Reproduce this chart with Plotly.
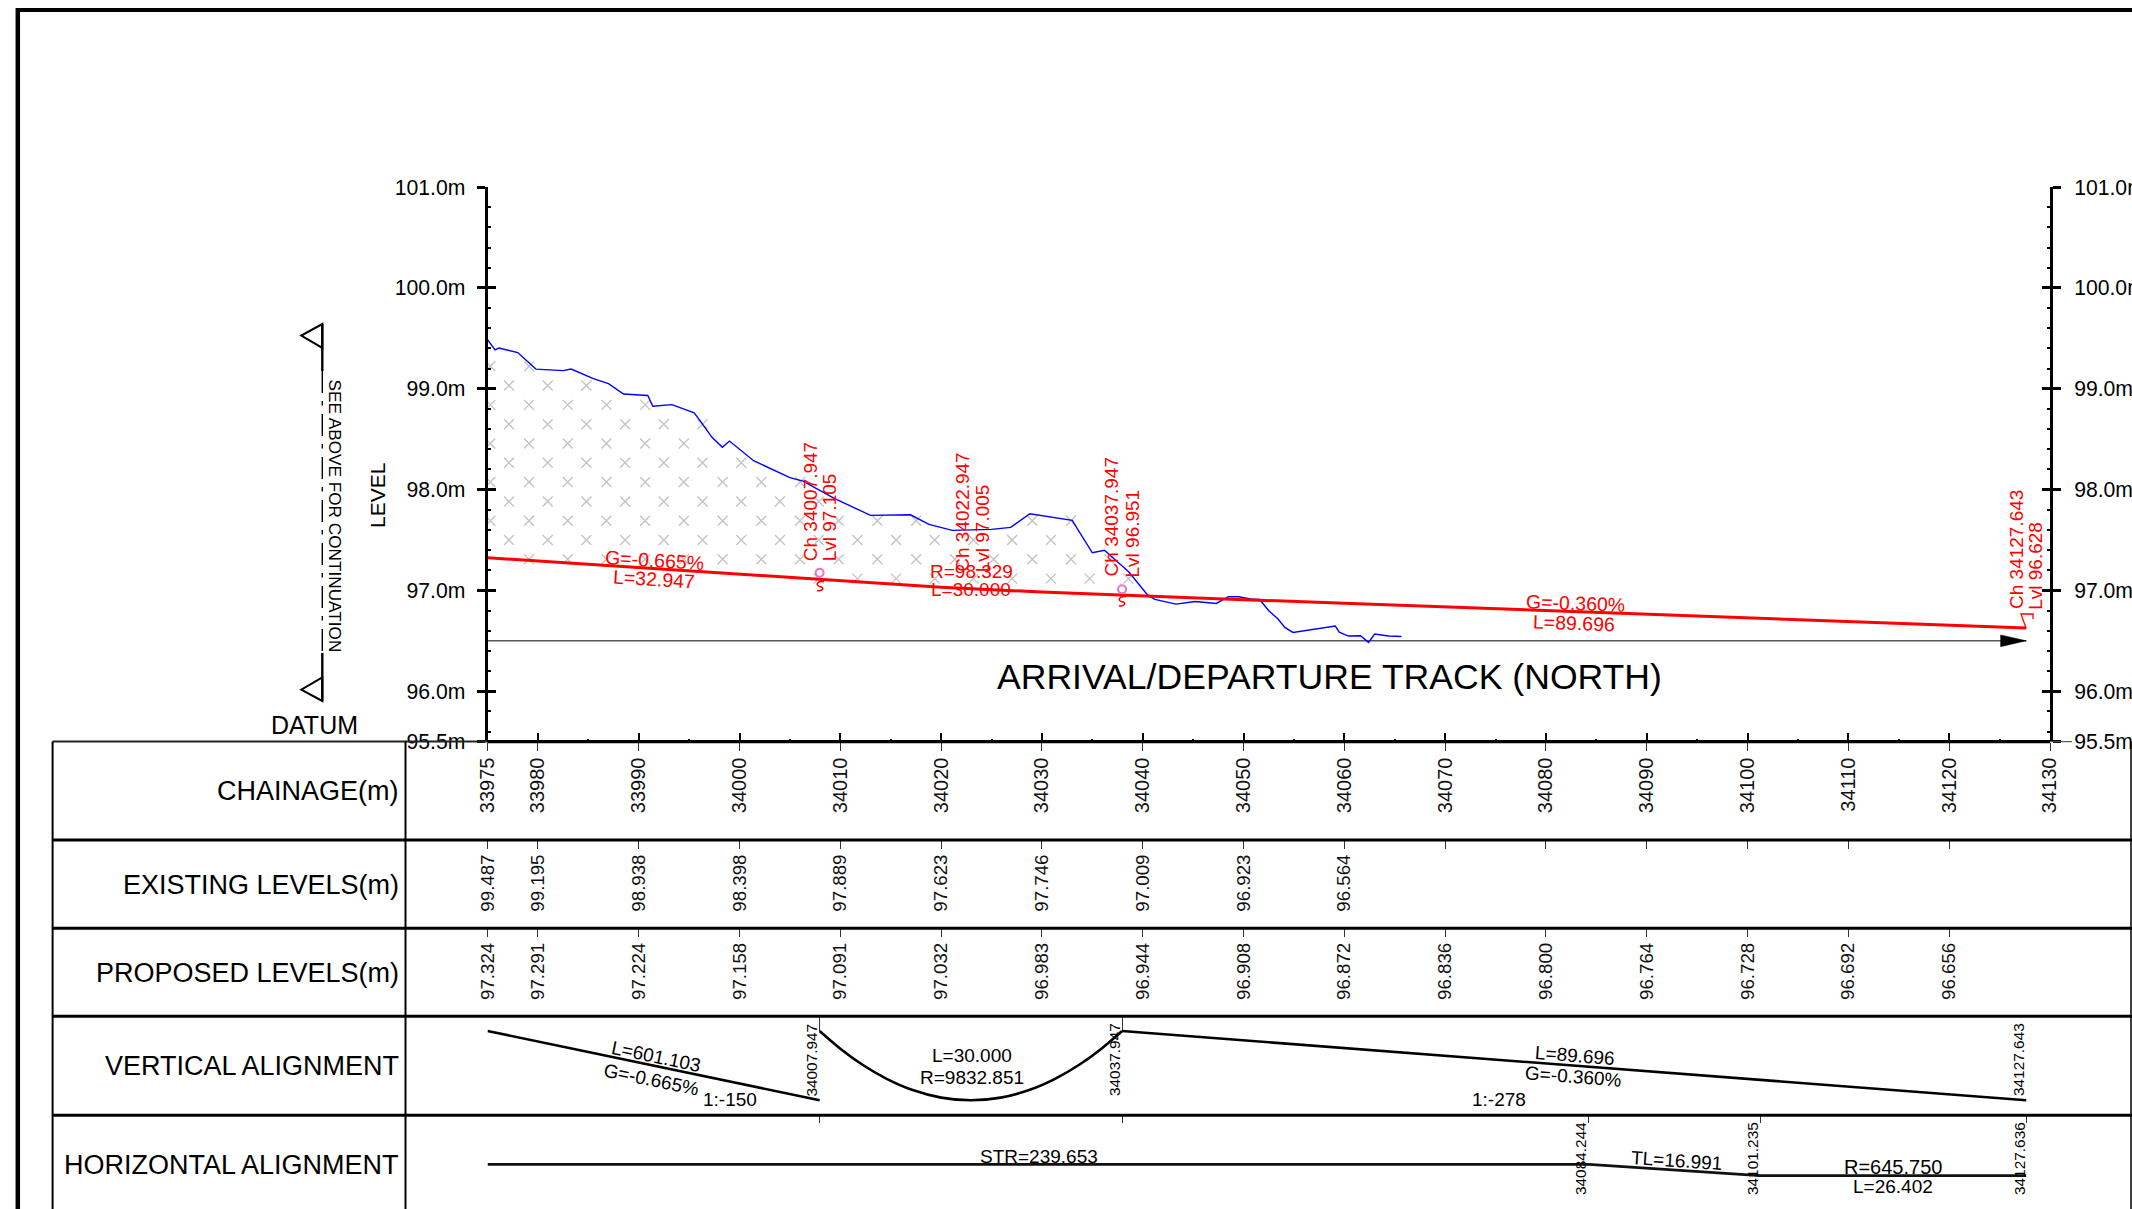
import numpy as np
import plotly.graph_objects as go

W, H = 2132, 1209
SANS = "Liberation Sans"

# ---------- data ----------
level_ticks = [95.5, 96, 97, 98, 99, 100, 101]
level_labels = ["95.5m", "96.0m", "97.0m", "98.0m", "99.0m", "100.0m", "101.0m"]
level_minor = [95.6, 95.8, 96.2, 96.4, 96.6, 96.8, 97.2, 97.4, 97.6, 97.8, 98.2, 98.4,
               98.6, 98.8, 99.2, 99.4, 99.6, 99.8, 100.2, 100.4, 100.6, 100.8]

chainage = [33975, 33980, 33990, 34000, 34010, 34020, 34030, 34040, 34050, 34060,
            34070, 34080, 34090, 34100, 34110, 34120, 34130]
chainage_minor = [33985, 33995, 34005, 34015, 34025, 34035, 34045, 34055, 34065,
                  34075, 34085, 34095, 34105, 34115, 34125]
existing_labels = ["99.487", "99.195", "98.938", "98.398", "97.889", "97.623", "97.746", "97.009",
                   "96.923", "96.564", "", "", "", "", "", ""]
proposed_labels = ["97.324", "97.291", "97.224", "97.158", "97.091", "97.032", "96.983", "96.944",
                   "96.908", "96.872", "96.836", "96.800", "96.764", "96.728", "96.692", "96.656"]

ground_ch = [33975, 33975.75, 33976.15, 33978, 33979.8, 33982.5, 33983.3, 33985.5, 33987, 33988.5,
             33990.9, 33991.4, 33993.3, 33995.5, 33996.08, 33997.27, 33998.3, 33999.0, 34001.4,
             34005, 34006.3, 34009.4, 34013, 34016.96, 34018.8, 34021.1, 34025, 34026.9, 34028.8,
             34033, 34035, 34036.2, 34038.6, 34040.5, 34041.2, 34043.3, 34045.2, 34047.3, 34048.5,
             34049.5, 34050.7, 34051.6, 34052.5, 34053.4, 34054.1, 34054.9, 34059.1, 34059.5,
             34060.4, 34061.6, 34062.4, 34063, 34064.4, 34065.66]
ground_lvl = [99.487, 99.385, 99.404, 99.359, 99.195, 99.18, 99.195, 99.10, 99.05, 98.948,
              98.933, 98.827, 98.842, 98.76, 98.683, 98.518, 98.42, 98.481, 98.286,
              98.118, 98.084, 97.912, 97.744, 97.75, 97.655, 97.595, 97.605, 97.625, 97.76,
              97.694, 97.373, 97.397, 97.185, 96.953, 96.91, 96.864, 96.89, 96.87, 96.937,
              96.937, 96.914, 96.91, 96.798, 96.719, 96.633, 96.583, 96.646, 96.586,
              96.547, 96.55, 96.484, 96.567, 96.547, 96.543]

design_ch = [33975, 33980, 33990, 34000, 34007.947, 34010, 34020, 34030, 34037.947, 34040, 34050,
             34060, 34070, 34080, 34090, 34100, 34110, 34120, 34127.643]
design_lvl = [97.324, 97.291, 97.224, 97.158, 97.105, 97.091, 97.032, 96.983, 96.951, 96.944, 96.908,
              96.872, 96.836, 96.800, 96.764, 96.728, 96.692, 96.656, 96.628]

datum_ch = [33975, 34127.643]
datum_lvl = [96.5, 96.5]
arrow_ch = [34125.1, 34127.643, 34125.1, 34125.1]
arrow_lvl = [96.558, 96.5, 96.442, 96.558]

ip_ch = [34007.947, 34037.947]
ip_lvl = [97.175, 97.01]

va_ch = [33975, 34007.947, None, 34037.947, 34127.643]
va_pos = [1, 0, None, 1, 0]
arc_ch = [34007.947, 34010, 34012.2, 34014.6, 34017.1, 34020, 34022.947,
          34025.9, 34028.8, 34031.3, 34033.7, 34035.9, 34037.947]
arc_pos = [1, 0.745, 0.513, 0.31, 0.152, 0.039, 0, 0.039, 0.152, 0.31, 0.513, 0.745, 1]
ha_ch = [33975, 34084.244, 34101.235, 34127.636]
ha_pos = [1, 1, 0, 0]
va_stubs = [34007.947, 34037.947]
ha_stubs = [34007.947, 34037.947, 34084.244, 34101.235, 34127.636]

# ---------- page geometry ----------
X0, X1 = 487.5, 2050.0
Y_TOP, Y_BOT = 187.1, 741.6
ROWS = [840.0, 928.3, 1016.3, 1115.3]
px = lambda x: x / W
py = lambda y: 1 - y / H
xdom = [px(X0), px(X1)]
xr = [33975, 34130]
ydom = [py(Y_BOT), py(Y_TOP)]
yr = [95.5, 101]
BLACK = "#000000"
STUB = "#333333"

fig = go.Figure()

# hatch texture (staggered crosses, bounded by ground and design line)
hatch_x, hatch_y = [], []
for k in range(0, 12):
    lv = 99.223 - k * 0.1915
    for n in range(-2, 20):
        ch = 33979.12 - (k % 2) * 1.99 + n * 3.84
        if ch < 33975 or ch > 34042:
            continue
        if np.interp(ch, design_ch, design_lvl) - 0.01 < lv < np.interp(ch, ground_ch, ground_lvl) + 0.02:
            hatch_x.append(ch)
            hatch_y.append(lv)

def tr(**k):
    k.setdefault("showlegend", False)
    k.setdefault("hoverinfo", "skip")
    k.setdefault("cliponaxis", False)
    fig.add_trace(go.Scatter(**k))

tr(x=hatch_x, y=hatch_y, mode="markers",
   marker=dict(symbol="x-thin", size=10, line=dict(color="#c4c4c4", width=1.4)))
tr(x=[33975, 33975], y=[design_lvl[0], ground_lvl[0]], mode="lines", line=dict(color="#999999", width=1))
tr(x=datum_ch, y=datum_lvl, mode="lines", line=dict(color="#555555", width=1.6))
tr(x=arrow_ch, y=arrow_lvl, mode="lines", fill="toself", fillcolor=BLACK, line=dict(color=BLACK, width=0.5))
tr(x=ground_ch, y=ground_lvl, mode="lines", line=dict(color="#0000ff", width=1.4))
tr(x=design_ch, y=design_lvl, mode="lines", line=dict(color="#ff0000", width=3))
tr(x=ip_ch, y=ip_lvl, mode="markers",
   marker=dict(symbol="circle-open", size=8, line=dict(color="#c8a8a8", width=2)))
tr(x=va_ch, y=va_pos, yaxis="y5", mode="lines", line=dict(color=BLACK, width=2.6))
tr(x=arc_ch, y=arc_pos, yaxis="y5", mode="lines", line=dict(color=BLACK, width=2.6, shape="spline"))
tr(x=ha_ch, y=ha_pos, yaxis="y6", mode="lines", line=dict(color="#111111", width=2.8))

# invisible carriers so that every auxiliary axis is drawn
for ax in ["x2", "x3", "x4", "x5", "x6"]:
    tr(x=[33975, 34130], y=[96, 96], xaxis=ax, mode="lines", line=dict(width=0), opacity=0)
for ax in ["y2", "y3", "y4"]:
    tr(x=[33975, 34130], y=[96, 96], yaxis=ax, mode="lines", line=dict(width=0), opacity=0)

chain_font = dict(family=SANS, size=20, color="#111111")
num_font = dict(family=SANS, size=18.7, color="#111111")
label_font = dict(family=SANS, size=21.2, color=BLACK)
x_common = dict(domain=xdom, range=xr, showgrid=False, zeroline=False, tickmode="array", tickangle=-90,
                automargin=False)
y_common = dict(domain=ydom, range=yr, showgrid=False, zeroline=False, tickmode="array",
                tickvals=level_ticks, tickcolor=BLACK, tickwidth=3, automargin=False)

fig.update_layout(
    template="none",
    width=W, height=H, margin=dict(l=0, r=0, t=0, b=0, pad=0, autoexpand=False), autosize=False,
    paper_bgcolor="white", plot_bgcolor="rgba(0,0,0,0)", showlegend=False, hovermode=False,
    xaxis=dict(**x_common, anchor="y", tickvals=chainage, ticktext=[str(c) for c in chainage],
               ticks="inside", ticklen=8.5, tickwidth=2, tickcolor=BLACK, tickfont=chain_font,
               ticklabelstandoff=11, showline=False,
               minor=dict(tickmode="array", tickvals=chainage_minor, ticks="inside", ticklen=3,
                          tickwidth=2, tickcolor=BLACK)),
    xaxis2=dict(**x_common, anchor="y", overlaying="x", tickvals=chainage, showticklabels=False,
                ticks="outside", ticklen=8, tickwidth=1.4, tickcolor=STUB),
    xaxis3=dict(**x_common, anchor="free", position=py(ROWS[0]), overlaying="x", tickvals=chainage[:-1],
                ticktext=existing_labels, ticks="outside", ticklen=8, tickwidth=1.4, tickcolor=STUB,
                tickfont=num_font, ticklabelstandoff=-2),
    xaxis4=dict(**x_common, anchor="free", position=py(ROWS[1]), overlaying="x", tickvals=chainage[:-1],
                ticktext=proposed_labels, ticks="outside", ticklen=8, tickwidth=1.4, tickcolor=STUB,
                tickfont=num_font, ticklabelstandoff=-2),
    xaxis5=dict(**x_common, anchor="free", position=py(ROWS[2]), overlaying="x", tickvals=va_stubs,
                showticklabels=False, ticks="outside", ticklen=14, tickwidth=1.4, tickcolor=STUB),
    xaxis6=dict(**x_common, anchor="free", position=py(ROWS[3]), overlaying="x", tickvals=ha_stubs,
                showticklabels=False, ticks="outside", ticklen=7, tickwidth=1.4, tickcolor=STUB),
    yaxis=dict(**y_common, anchor="x", side="left", ticktext=level_labels, ticks="outside", ticklen=8,
               tickfont=label_font, ticklabelstandoff=7, showline=True, linecolor=BLACK, linewidth=2.8,
               minor=dict(tickmode="array", tickvals=level_minor, ticks="inside", ticklen=3.5,
                          tickwidth=2.4, tickcolor=BLACK)),
    yaxis2=dict(**y_common, anchor="x", side="right", overlaying="y", ticktext=level_labels, ticks="outside",
                ticklen=8, tickfont=label_font, ticklabelstandoff=9, showline=True, linecolor=BLACK,
                linewidth=2.8,
                minor=dict(tickmode="array", tickvals=level_minor, ticks="inside", ticklen=3.5,
                           tickwidth=2.4, tickcolor=BLACK)),
    yaxis3=dict(**y_common, anchor="x", side="left", overlaying="y", ticktext=level_labels, ticks="inside",
                ticklen=8, showticklabels=False),
    yaxis4=dict(**y_common, anchor="x", side="right", overlaying="y", ticktext=level_labels, ticks="inside",
                ticklen=8, showticklabels=False),
    yaxis5=dict(domain=[py(1107.23), py(1024.07)], range=[-0.1, 1.1], visible=False, anchor="x", automargin=False),
    yaxis6=dict(domain=[py(1187.1), py(1152.9)], range=[-1, 2], visible=False, anchor="x", automargin=False),
)

# ---------- frame, table and section marks ----------
shapes = []
def line(x0, y0, x1, y1, w=2, c=BLACK, dash=None):
    shapes.append(dict(type="line", xref="paper", yref="paper", x0=px(x0), y0=py(y0), x1=px(x1), y1=py(y1),
                       line=dict(color=c, width=w, dash=dash) if dash else dict(color=c, width=w)))
def path(pts, w=2, c=BLACK, close=False):
    d = "M " + " L ".join(f"{px(a)},{py(b)}" for a, b in pts) + (" Z" if close else "")
    shapes.append(dict(type="path", xref="paper", yref="paper", path=d, line=dict(color=c, width=w)))
def curl(cx, cy, c="#ff0000"):
    d = (f"M {px(cx+4)},{py(cy-5)} C {px(cx-3)},{py(cy-6)} {px(cx-5)},{py(cy-1)} {px(cx)},{py(cy)} "
         f"C {px(cx+5)},{py(cy+1)} {px(cx+3)},{py(cy+5)} {px(cx-3)},{py(cy+4)}")
    shapes.append(dict(type="path", xref="paper", yref="paper", path=d, line=dict(color=c, width=1.5)))

line(17.8, 8, 17.8, H, 4.5)
line(16, 10, W, 10, 4)
line(52.6, Y_BOT, X0, Y_BOT, 2, "#222222")
line(X0, Y_BOT, X1, Y_BOT, 3.4)
line(X1, Y_BOT, 2072, Y_BOT, 1.2, "#555555")
for r in ROWS:
    line(52.6, r, W, r, 3)
line(52.6, Y_BOT, 52.6, H, 2)
line(405.5, Y_BOT, 405.5, H, 2)
line(2131, Y_BOT, 2131, H, 1.5)

line(322.3, 324, 322.3, 371, 2.4)
line(322.3, 371, 322.3, 653, 1.4, dash="22px,8px,4.5px,8.5px")
line(322.3, 653, 322.3, 701, 2.4)
path([(322.3, 324), (301.3, 335.6), (322.3, 347.9)], 2, close=True)
path([(322.3, 677.4), (301.3, 689.6), (322.3, 701)], 2, close=True)

path([(2033, 619), (2033, 614), (2021, 614), (2026, 628)], 1.3, "#ff0000")
curl(820, 586.5)
curl(1122, 601.7)
fig.update_layout(shapes=shapes)

# ---------- text ----------
anns = []
def T(s, x, y, size=19, angle=0, color=BLACK, family=SANS, xanchor="center"):
    anns.append(dict(text=s, x=px(x), y=py(y), xref="paper", yref="paper", showarrow=False, textangle=angle,
                     xanchor=xanchor, yanchor="middle", font=dict(family=family, size=size, color=color)))

RED = "#ff0000"
T("LEVEL", 377, 496, 21, -90)
T("SEE ABOVE FOR CONTINUATION", 335, 515.5, 17.2, 90)
T("DATUM", 314.7, 725, 25)
T("ARRIVAL/DEPARTURE TRACK (NORTH)", 1329, 677, 35.6)

T("G=-0.665%", 654, 560, 19.5, 3.6, RED)
T("L=32.947", 654, 579, 19.5, 3.6, RED)
T("G=-0.360%", 1575, 603, 19.5, 2, RED)
T("L=89.696", 1574, 622.6, 19.5, 2, RED)
T("R=98.329", 971.3, 571.7, 19, 0, RED)
T("L=30.000", 971, 589.3, 19, 0, RED)

T("Ch 34007.947", 810.5, 501.7, 19, -90, RED)
T("Lvl 97.105", 829, 517.3, 19, -90, RED)
T("Ch 34022.947", 961.7, 512, 19, -90, RED)
T("Lvl 97.005", 982.3, 528, 19, -90, RED)
T("Ch 34037.947", 1112.4, 517, 19, -90, RED)
T("Lvl 96.951", 1132, 533.5, 19, -90, RED)
T("Ch 34127.643", 2016.5, 549.5, 19, -90, RED)
T("Lvl 96.628", 2036, 565.8, 19, -90, RED)

for s, y in [("CHAINAGE(m)", 791), ("EXISTING LEVELS(m)", 885), ("PROPOSED LEVELS(m)", 973.3),
             ("VERTICAL ALIGNMENT", 1066), ("HORIZONTAL ALIGNMENT", 1165)]:
    T(s, 401, y, 27, xanchor="right")

SMALL = 15.4
T("L=601.103", 656, 1056, 19, 11.7)
T("G=-0.665%", 651, 1079.3, 19, 11.7)
T("1:-150", 730, 1099, 19)
T("L=30.000", 971.6, 1055.3, 19)
T("R=9832.851", 971.6, 1077.3, 19)
T("34007.947", 812, 1060.6, SMALL, -90)
T("34037.947", 1114, 1060, SMALL, -90)
T("L=89.696", 1574.5, 1055.3, 19, 4.4)
T("G=-0.360%", 1573, 1076, 19, 4.4)
T("1:-278", 1499, 1099, 19)
T("34127.643", 2018, 1060, SMALL, -90)
T("STR=239.653", 1038.6, 1156, 19)
T("TL=16.991", 1676, 1160.7, 19, 3.8)
T("R=645.750", 1893.3, 1167.3, 20)
T("L=26.402", 1893, 1186.7, 19)
T("34084.244", 1580, 1159, SMALL, -90)
T("34101.235", 1752, 1159, SMALL, -90)
T("34127.636", 2019, 1159, SMALL, -90)
fig.update_layout(annotations=anns)

fig.write_html("out.html", config=dict(displayModeBar=False),
               post_script="document.body.style.margin='0';")
